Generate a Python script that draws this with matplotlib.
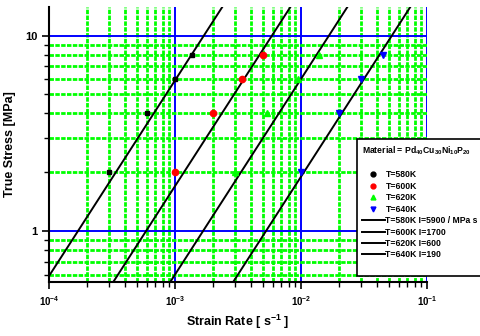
import numpy as np
import matplotlib
matplotlib.use("Agg")
import matplotlib.pyplot as plt
from matplotlib.lines import Line2D
from matplotlib.ticker import LogLocator, FixedLocator, NullFormatter

plt.rcParams['font.family'] = ['Liberation Sans', 'DejaVu Sans']
plt.rcParams['font.weight'] = 'bold'
plt.rcParams['mathtext.fontset'] = 'custom'
plt.rcParams['mathtext.rm'] = 'Liberation Sans:bold'
plt.rcParams['mathtext.bf'] = 'Liberation Sans:bold'
plt.rcParams['mathtext.it'] = 'Liberation Sans:bold'
plt.rcParams['mathtext.default'] = 'bf'

# data
temps = ['T=580K', 'T=600K', 'T=620K', 'T=640K']
rate_580 = [3e-4, 6e-4, 1e-3, 1.37e-3]
rate_600 = [1e-3, 2e-3, 3.4e-3, 5e-3]
rate_620 = [3e-3, 5.4e-3, 9.4e-3, 1.38e-2]
rate_640 = [1e-2, 2e-2, 3e-2, 4.5e-2]
stress = [2, 4, 6, 8]

# newtonian fits: stress = eta * rate
eta = [5900, 1700, 600, 190]
eta_labels = ['T=580K I=5900 / MPa s', 'T=600K I=1700', 'T=620K I=600', 'T=640K I=190']
fit_rate = np.array([1e-4, 1e-1])

fig = plt.figure(figsize=(4.8, 3.36), dpi=100)
ax = fig.add_axes([49/480, (336-282)/336, (427-49)/480, (282-7)/336])
ax.set_xscale('log')
ax.set_yscale('log')
ax.set_xlim(1e-4, 1e-1)
ax.set_ylim(0.55, 14)

# grid
ax.xaxis.set_minor_locator(LogLocator(base=10, subs=np.arange(2, 10)))
ax.yaxis.set_minor_locator(LogLocator(base=10, subs=np.arange(2, 10)))
ax.xaxis.set_major_locator(FixedLocator([1e-4, 1e-3, 1e-2, 1e-1]))
ax.yaxis.set_major_locator(FixedLocator([1, 10]))
ax.grid(which='minor', color='#00ff00', linestyle=(0, (1.6, 0.5)), linewidth=2.0, zorder=1)
ax.grid(which='major', color='#0000ff', linestyle='-', linewidth=1.4, zorder=1)
ax.set_axisbelow(True)

colors = ['black', 'red', '#00ff00', '#0000ff']
markers = ['s', 'o', '^', 'v']
sizes = [3.5, 4.5, 5, 5]
rates = [rate_580, rate_600, rate_620, rate_640]
pt_handles = []
for r, c, m, s, lab in zip(rates, colors, markers, sizes, temps):
    ax.plot(r, stress, linestyle='none', marker=m, color=c, markersize=s,
            label=lab, zorder=4, clip_on=False)
    pt_handles.append(Line2D([], [], linestyle='none', marker=m if m != 's' else 'o',
                             color=c, markersize=3.5))

line_handles = []
for e, lab in zip(eta, eta_labels):
    ax.plot(fit_rate, e * fit_rate, color='black', linewidth=1.4, zorder=3)
    line_handles.append(Line2D([], [], color='black', linewidth=1.4))

for side in ['top', 'right']:
    ax.spines[side].set_visible(False)
for side in ['left', 'bottom']:
    ax.spines[side].set_linewidth(1.5)
    ax.spines[side].set_zorder(5)

ax.tick_params(which='major', direction='out', length=5, width=1.2, labelsize=7.5)
ax.tick_params(which='minor', direction='out', length=3.5, width=1.0)
ax.yaxis.set_minor_formatter(NullFormatter())
ax.xaxis.set_minor_formatter(NullFormatter())
ax.set_xticks([1e-4, 1e-3, 1e-2, 1e-1])
ax.set_xticklabels([r'$10^{-4}$', r'$10^{-3}$', r'$10^{-2}$', r'$10^{-1}$'], fontsize=7)
ax.set_yticks([1, 10])
ax.set_yticklabels(['1', '10'], fontsize=8, fontweight='bold')

ax.set_xlabel(r'Strain Rate [ s$^{-1}$ ]', fontsize=9, fontweight='bold', labelpad=4)
ax.set_ylabel('True Stress [MPa]', fontsize=9, fontweight='bold', labelpad=6)

blank = Line2D([], [], linestyle='none')
handles = [blank] + pt_handles + line_handles + [blank]
labels = [' '] + temps + eta_labels + [' ']
leg = fig.legend(handles, labels, loc='upper left', bbox_to_anchor=(357/480, (336-139)/336),
                 fontsize=6.2, frameon=True, fancybox=False, framealpha=1,
                 edgecolor='black', handlelength=2.6, handletextpad=0.1,
                 labelspacing=0.28, borderpad=0.6, borderaxespad=0,
                 title=r'Material = Pd$_{40}$Cu$_{30}$Ni$_{10}$P$_{20}$',
                 title_fontsize=6.2, alignment='left')
leg.get_frame().set_linewidth(1.2)
for t in leg.get_texts():
    t.set_fontweight('bold')

fig.savefig('out.png', dpi=100)
